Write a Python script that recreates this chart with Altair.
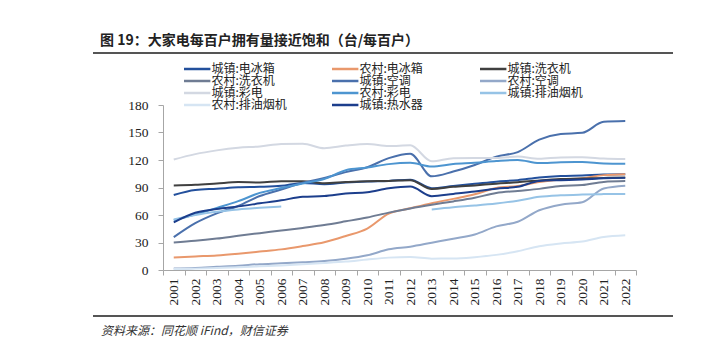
import altair as alt
import pandas as pd

years = [str(y) for y in range(2001, 2023)]

series_names = ["城镇:电冰箱", "农村:电冰箱", "城镇:洗衣机", "农村:洗衣机", "城镇:空调", "农村:空调",
                "城镇:彩电", "农村:彩电", "城镇:排油烟机", "农村:排油烟机", "城镇:热水器"]
series_colors = ["#23509c", "#e9986c", "#404040", "#6f7c93", "#4a70ac", "#93a8c9",
                 "#d3d8e2", "#4d95d0", "#96c3e6", "#d6e5f3", "#1c3e8c"]

urban_fridge = [81.9, 87.4, 88.7, 90.2, 90.7, 91.8, 95.0, 93.6, 95.4, 96.6, 97.2, 98.5, 89.2, 91.7, 94.0, 96.4, 98.0, 100.9, 102.5, 103.1, 104.2, 104.5]
rural_fridge = [13.6, 14.8, 15.9, 17.8, 20.1, 22.5, 26.1, 30.2, 37.1, 45.2, 61.5, 67.3, 72.9, 77.6, 82.6, 89.5, 91.7, 95.9, 98.6, 100.1, 103.5, 104.5]
urban_washer = [92.2, 92.9, 94.4, 95.9, 95.5, 96.8, 96.8, 94.7, 96.0, 96.9, 97.1, 98.0, 88.4, 90.7, 92.3, 94.2, 95.7, 97.7, 99.2, 99.7, 100.5, 100.8]
rural_washer = [29.9, 31.8, 34.3, 37.3, 40.2, 43.0, 45.9, 49.1, 53.1, 57.3, 62.6, 67.2, 71.2, 74.8, 78.8, 84.0, 86.3, 88.5, 91.6, 92.6, 96.1, 97.0]
urban_ac = [35.8, 51.1, 61.8, 69.8, 80.7, 87.8, 95.1, 100.3, 106.8, 112.1, 122.0, 126.8, 102.2, 107.4, 114.6, 123.7, 128.6, 142.2, 148.3, 149.6, 161.7, 162.5]
rural_ac = [1.7, 2.3, 3.5, 4.7, 6.4, 7.3, 8.5, 9.8, 12.2, 16.0, 22.6, 25.4, 29.8, 34.2, 38.8, 47.6, 52.6, 65.2, 71.3, 73.8, 89.0, 92.0]
urban_tv = [120.5, 126.4, 130.5, 133.4, 134.8, 137.4, 137.8, 132.9, 135.7, 137.4, 135.2, 136.1, 118.6, 122.0, 122.3, 122.3, 123.8, 121.3, 122.8, 123.0, 121.6, 121.0]
rural_tv = [54.4, 60.5, 67.8, 75.1, 84.1, 89.4, 94.4, 99.2, 108.9, 111.8, 115.5, 116.9, 112.9, 115.6, 116.9, 118.8, 120.0, 116.6, 117.6, 117.8, 116.3, 116.0]
urban_hood = [55.0, 60.0, 63.5, 66.0, 67.8, 69.2, None, None, None, None, None, None, 66.1, 68.5, 70.3, 72.5, 75.6, 79.8, 81.5, 82.3, 82.8, 83.0]
rural_hood = [1.0, 1.5, 2.2, 3.0, 4.0, 5.0, 6.2, 7.6, 9.2, 11.5, 13.5, 14.2, 12.4, 12.5, 14.0, 16.5, 20.5, 26.0, 29.0, 31.0, 36.0, 38.0]
urban_heater = [52.0, 62.4, 66.6, 69.4, 72.7, 76.0, 79.9, 80.7, 83.4, 84.8, 89.1, 91.0, 80.5, 83.0, 85.6, 88.7, 90.7, 97.2, 98.0, 98.8, 100.0, 100.5]

all_values = [urban_fridge, rural_fridge, urban_washer, rural_washer, urban_ac, rural_ac,
              urban_tv, rural_tv, urban_hood, rural_hood, urban_heater]

y_ticks = [0, 30, 60, 90, 120, 150, 180]

title_text = "图 19：大家电每百户拥有量接近饱和（台/每百户）"
source_text = "资料来源：同花顺 iFind，财信证券"

rows = []
for name, vals in zip(series_names, all_values):
    seg = 0
    for yr, v in zip(years, vals):
        if v is None:
            seg += 1
            continue
        rows.append({"year": yr, "value": v, "series": name, "seg": f"{name}-{seg}"})
df = pd.DataFrame(rows)

W, H = 473, 165
PL, PT = 163, 105

lines = alt.Chart(df).mark_line(strokeWidth=2, interpolate="monotone").encode(
    x=alt.X("year:O", sort=years, bandPosition=0.5,
            scale=alt.Scale(type="band", paddingInner=0, paddingOuter=0),
            axis=alt.Axis(title=None, labelAngle=270, tickBand="extent", tickSize=5,
                          labelFont="Liberation Serif", labelFontSize=13.5, labelColor="#222",
                          labelPadding=3, domainColor="#a6a6a6", tickColor="#a6a6a6",
                          grid=False)),
    y=alt.Y("value:Q", scale=alt.Scale(domain=[0, 180], nice=False),
            axis=alt.Axis(title=None, values=y_ticks, tickSize=5, grid=False,
                          labelFont="Liberation Serif", labelFontSize=13.5, labelColor="#222",
                          labelPadding=10, domainColor="#a6a6a6", tickColor="#a6a6a6")),
    color=alt.Color("series:N", sort=series_names,
                    scale=alt.Scale(domain=series_names, range=series_colors),
                    legend=alt.Legend(title=None, orient="none", legendX=19, legendY=-42,
                                      direction="horizontal",
                                      columns=3, gridAlign="all", columnPadding=40,
                                      rowPadding=0, padding=0,
                                      symbolType="M-1,0H5.6", symbolSize=64,
                                      symbolStrokeWidth=2.5, labelOffset=17.4,
                                      labelFont="Noto Sans CJK SC", labelFontSize=12,
                                      labelColor="#222", labelLimit=0)),
    detail="seg:N",
)

title_mark = alt.Chart(pd.DataFrame({"t": [title_text]})).mark_text(
    align="left", baseline="middle", font="Noto Sans CJK SC", fontWeight="bold",
    fontSize=14, color="#222"
).encode(x=alt.value(100 - PL), y=alt.value(41 - PT), text="t:N")

source_mark = alt.Chart(pd.DataFrame({"t": [source_text]})).mark_text(
    align="left", baseline="middle", font="Noto Sans CJK SC", fontStyle="italic",
    fontSize=12, color="#333"
).encode(x=alt.value(101 - PL), y=alt.value(331 - PT), text="t:N")

rule_top = alt.Chart(pd.DataFrame({"a": [0]})).mark_rule(color="#555", strokeWidth=2).encode(
    x=alt.value(93 - PL), x2=alt.value(673 - PL), y=alt.value(53 - PT))
rule_bot = alt.Chart(pd.DataFrame({"a": [0]})).mark_rule(color="#555", strokeWidth=2).encode(
    x=alt.value(93 - PL), x2=alt.value(673 - PL), y=alt.value(316 - PT))

chart = alt.layer(lines, title_mark, source_mark, rule_top, rule_bot).properties(
    width=W, height=H,
    autosize=alt.AutoSizeParams(type="none"),
    padding={"left": PL, "top": PT, "right": 705 - PL - W, "bottom": 354 - PT - H},
    background="white",
).configure_view(stroke=None)

chart.save("out.html", embed_options={"renderer": "svg", "actions": False})
